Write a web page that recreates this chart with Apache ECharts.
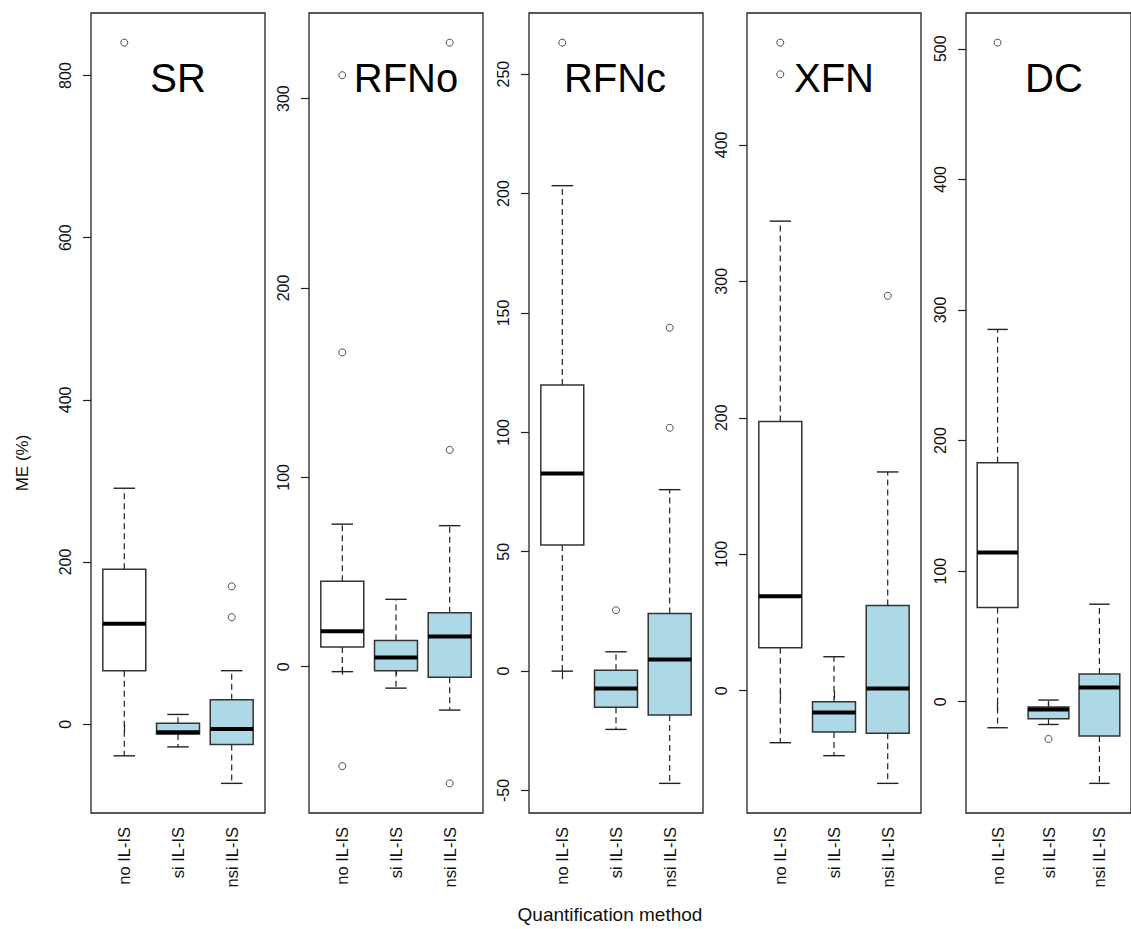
<!DOCTYPE html>
<html><head><meta charset="utf-8">
<script src="https://cdn.jsdelivr.net/npm/echarts@6/dist/echarts.min.js"></script>
<style>html,body{margin:0;padding:0;background:#fff}#c{width:1131px;height:929px}</style>
</head><body><div id="c"></div>
<script>
// ---------- data ----------
const categories = ['no IL-IS', 'si IL-IS', 'nsi IL-IS'];
const panelNames = ['SR', 'RFNo', 'RFNc', 'XFN', 'DC'];

// box stats per category: [lower whisker, Q1, median, Q3, upper whisker]
const srBoxes   = [[-39, 66, 124, 191, 291], [-28, -12, -10, 1, 12], [-73, -25, -6, 30, 66]];
const rfnoBoxes = [[-2.6, 10.4, 18.8, 45.2, 75.3], [-11.3, -2.1, 4.9, 13.9, 35.6], [-22.9, -5.5, 16, 28.5, 74.5]];
const rfncBoxes = [[0, 52.8, 82.8, 119.8, 203.3], [-24.4, -15.1, -7.3, 0.4, 8.1], [-47, -18.4, 4.9, 24.1, 76]];
const xfnBoxes  = [[-38.1, 31.5, 69.3, 197.2, 344.1], [-47.6, -30.2, -15.9, -8, 24.9], [-67.9, -31.2, 1.7, 62.5, 160.3]];
const dcBoxes   = [[-19.9, 72.1, 114.2, 183.1, 285.1], [-17.4, -13, -5.9, -4.1, 1.3], [-62.5, -26.2, 10.9, 21.2, 74.7]];

// outliers: [category number (1..3), value]
const srOutliers   = [[1, 840.6], [3, 132], [3, 170]];
const rfnoOutliers = [[1, 312.4], [1, 166], [1, -52.5], [3, 329.6], [3, 114.5], [3, -61.6]];
const rfncOutliers = [[1, 263.2], [2, 25.5], [3, 101.9], [3, 143.8]];
const xfnOutliers  = [[1, 474.9], [1, 451.7], [3, 289.4]];
const dcOutliers   = [[1, 504.7], [2, -28.5]];

// y tick labels
const srTicks   = [0, 200, 400, 600, 800];
const rfnoTicks = [0, 100, 200, 300];
const rfncTicks = [-50, 0, 50, 100, 150, 200, 250];
const xfnTicks  = [0, 100, 200, 300, 400];
const dcTicks   = [0, 100, 200, 300, 400, 500];

const yAxisTitle = 'ME (%)';
const xAxisTitle = 'Quantification method';

// ---------- styles / layout ----------
const boxFills = ['#ffffff', '#add8e6', '#add8e6'];
const panelLefts = [91, 309, 529, 747, 966];
const panelWidth = 174;
const panelTop = 13;
const panelHeight = 800;
const titleCenters = [178, 406, 615, 834, 1054];
const FONT = 'Liberation Sans, Arial, Helvetica, sans-serif';

const allBoxes = [srBoxes, rfnoBoxes, rfncBoxes, xfnBoxes, dcBoxes];
const allOutliers = [srOutliers, rfnoOutliers, rfncOutliers, xfnOutliers, dcOutliers];
const allTicks = [srTicks, rfnoTicks, rfncTicks, xfnTicks, dcTicks];

function renderBox(params, api) {
  const x = api.value(0);
  const lo = api.coord([x, api.value(1)]);
  const q1 = api.coord([x, api.value(2)]);
  const med = api.coord([x, api.value(3)]);
  const q3 = api.coord([x, api.value(4)]);
  const hi = api.coord([x, api.value(5)]);
  const halfW = api.size([0.8, 0])[0] / 2;
  const capW = halfW / 2;
  const cx = lo[0];
  const dash = { stroke: '#222', lineWidth: 1.2, lineDash: [6, 4] };
  const solid = { stroke: '#222', lineWidth: 1.4 };
  return {
    type: 'group',
    children: [
      { type: 'line', shape: { x1: cx, y1: q3[1], x2: cx, y2: hi[1] }, style: dash },
      { type: 'line', shape: { x1: cx, y1: q1[1], x2: cx, y2: lo[1] }, style: dash },
      { type: 'line', shape: { x1: cx - capW, y1: hi[1], x2: cx + capW, y2: hi[1] }, style: solid },
      { type: 'line', shape: { x1: cx - capW, y1: lo[1], x2: cx + capW, y2: lo[1] }, style: solid },
      { type: 'rect', shape: { x: cx - halfW, y: q3[1], width: 2 * halfW, height: q1[1] - q3[1] },
        style: { fill: boxFills[x - 1], stroke: '#333', lineWidth: 1.5 } },
      { type: 'line', shape: { x1: cx - halfW, y1: med[1], x2: cx + halfW, y2: med[1] },
        style: { stroke: '#000', lineWidth: 4 } }
    ]
  };
}

const grids = [], xAxes = [], yAxes = [], series = [], graphics = [];
panelNames.forEach((name, i) => {
  const boxes = allBoxes[i], outs = allOutliers[i];
  const vals = [].concat(...boxes, outs.map(o => o[1]));
  const vmin = Math.min(...vals), vmax = Math.max(...vals);
  const ext = (vmax - vmin) * 0.04;
  grids.push({ left: panelLefts[i], top: panelTop, width: panelWidth, height: panelHeight,
    show: true, borderColor: '#222', borderWidth: 1.3, backgroundColor: 'transparent', containLabel: false });
  xAxes.push({
    type: 'value', gridIndex: i, min: 0.38, max: 3.62,
    axisLine: { show: false }, splitLine: { show: false },
    axisTick: { show: true, customValues: [1, 2, 3], length: 8, lineStyle: { color: '#222', width: 1.2 } },
    axisLabel: { show: true, customValues: [1, 2, 3], rotate: 90, margin: 14,
      formatter: v => categories[Math.round(v) - 1] || '',
      color: '#111', fontSize: 16.5, fontFamily: FONT }
  });
  yAxes.push({
    type: 'value', gridIndex: i, min: vmin - ext, max: vmax + ext,
    axisLine: { show: false }, splitLine: { show: false },
    axisTick: { show: true, customValues: allTicks[i], length: 8, lineStyle: { color: '#222', width: 1.2 } },
    axisLabel: { show: true, customValues: allTicks[i], rotate: 90, margin: 18,
      color: '#111', fontSize: 16, fontFamily: FONT }
  });
  series.push({
    type: 'custom', xAxisIndex: i, yAxisIndex: i, renderItem: renderBox,
    data: boxes.map((b, k) => [k + 1].concat(b)),
    encode: { x: 0, y: [1, 2, 3, 4, 5] }, silent: true, clip: false
  });
  series.push({
    type: 'scatter', xAxisIndex: i, yAxisIndex: i, data: outs,
    symbol: 'circle', symbolSize: 7,
    itemStyle: { color: '#fff', borderColor: '#222', borderWidth: 1 }, silent: true, z: 5
  });
  graphics.push({ type: 'text', x: titleCenters[i], y: 78,
    style: { text: name, font: '40px ' + FONT, fill: '#000', textAlign: 'center', textVerticalAlign: 'middle' } });
});
graphics.push({ type: 'text', x: 610, y: 914,
  style: { text: xAxisTitle, font: '19px ' + FONT, fill: '#111', textAlign: 'center', textVerticalAlign: 'middle' } });
graphics.push({ type: 'text', x: 22, y: 463, rotation: Math.PI / 2,
  style: { text: yAxisTitle, font: '17px ' + FONT, fill: '#111', textAlign: 'center', textVerticalAlign: 'middle' } });

const chart = echarts.init(document.getElementById('c'), null, { renderer: 'svg' });
chart.setOption({
  animation: false,
  backgroundColor: '#fff',
  grid: grids, xAxis: xAxes, yAxis: yAxes, series: series, graphic: graphics
});
</script></body></html>
